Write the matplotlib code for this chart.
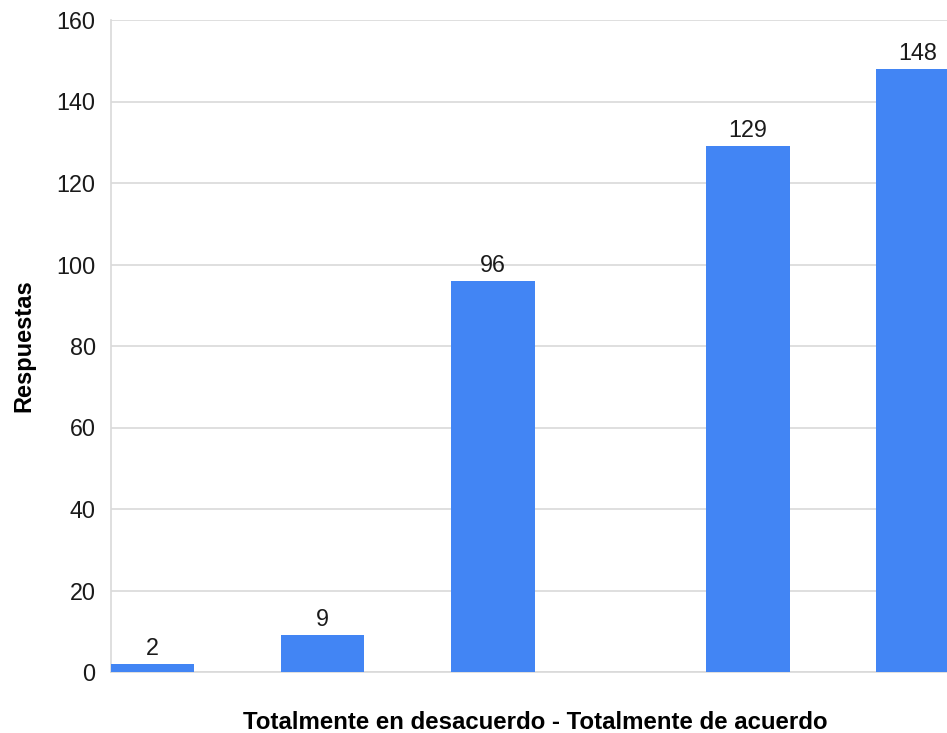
import numpy as np
import matplotlib.pyplot as plt

plt.rcParams['font.family'] = ['Liberation Sans', 'DejaVu Sans']

# escala de respuesta (posiciones en el eje numérico) y número de respuestas
escala = [1, 2, 3, 4.5, 5.5]
respuestas = [2, 9, 96, 129, 148]
yticks = [0, 20, 40, 60, 80, 100, 120, 140, 160]

fig = plt.figure(figsize=(9.47, 7.33), dpi=100)
ax = fig.add_axes([111 / 947, 1 - 672 / 733, 1 - 111 / 947, (672 - 20) / 733])

bars = ax.bar(escala, respuestas, width=0.49, color="#4285F4", zorder=3)
for x, v in zip(escala, respuestas):
    ax.text(x, v + 1.0, str(v), ha="center", va="bottom", fontsize=16.8, color="#1a1a1a")

ax.set_xlim(0.755, 5.67)
ax.set_ylim(0, 160)
ax.set_yticks(yticks)
ax.set_xticks([])
ax.tick_params(axis="y", length=0, pad=11, labelsize=16.8, labelcolor="#1a1a1a")
ax.grid(axis="y", color="#d9d9d9", linewidth=1.2, zorder=0)

for s in ["top", "right"]:
    ax.spines[s].set_visible(False)
ax.spines["left"].set_color("#d9d9d9")
ax.spines["bottom"].set_color("#d9d9d9")
ax.spines["left"].set_linewidth(1.2)
ax.spines["bottom"].set_linewidth(1.2)

ax.set_ylabel("Respuestas", fontsize=17, fontweight="bold", labelpad=15)
ax.set_xlabel("Totalmente en desacuerdo - Totalmente de acuerdo", fontsize=17.3,
              fontweight="bold", labelpad=28)
ax.xaxis.label.set_x(0.508)

fig.savefig("out.png", dpi=100)
